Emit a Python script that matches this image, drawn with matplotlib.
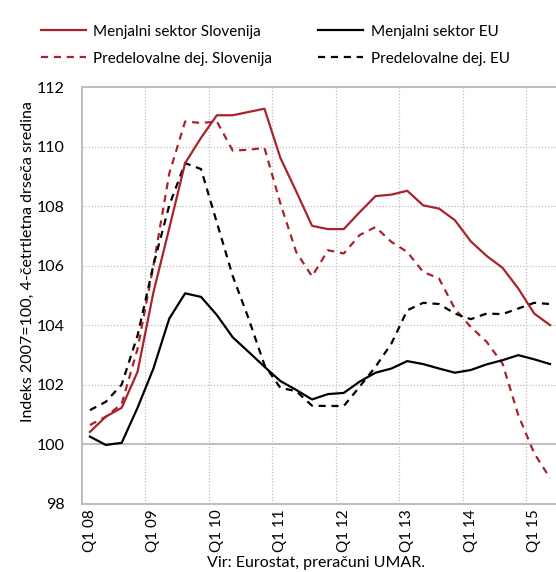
import matplotlib
matplotlib.use("Agg")
import matplotlib.pyplot as plt

plt.rcParams['font.family'] = ['Lato', 'DejaVu Sans']

quarters = [f"Q{q} {y:02d}" for y in range(8, 16) for q in range(1, 5)][:30]
year_labels = ["Q1 08", "Q1 09", "Q1 10", "Q1 11", "Q1 12", "Q1 13", "Q1 14", "Q1 15"]

menjalni_si = [100.41, 100.92, 101.22, 102.43, 105.1, 107.26, 109.45, 110.3, 111.06, 111.06,
               111.17, 111.28, 109.63, 108.5, 107.34, 107.23, 107.23, 107.8, 108.34, 108.39,
               108.52, 108.03, 107.92, 107.53, 106.82, 106.33, 105.93, 105.23, 104.39, 104.0]
menjalni_eu = [100.25, 99.97, 100.04, 101.22, 102.54, 104.22, 105.07, 104.95, 104.34, 103.59,
               103.1, 102.6, 102.12, 101.82, 101.5, 101.68, 101.72, 102.1, 102.4, 102.54,
               102.79, 102.69, 102.54, 102.4, 102.49, 102.68, 102.82, 102.99, 102.85, 102.69]
predel_si = [100.64, 100.92, 101.35, 103.2, 106.0, 109.1, 110.85, 110.8, 110.85, 109.87,
             109.9, 109.96, 108.1, 106.46, 105.64, 106.52, 106.41, 107.03, 107.3, 106.8,
             106.46, 105.79, 105.57, 104.55, 103.94, 103.44, 102.71, 100.97, 99.69, 98.85]
predel_eu = [101.14, 101.42, 102.0, 103.65, 106.02, 108.03, 109.45, 109.25, 107.45, 105.65,
             104.22, 102.66, 101.89, 101.78, 101.29, 101.28, 101.28, 101.93, 102.6, 103.38,
             104.5, 104.75, 104.71, 104.39, 104.2, 104.39, 104.37, 104.56, 104.75, 104.71]
series_names = ["Menjalni sektor Slovenija", "Predelovalne dej. Slovenija",
                "Menjalni sektor EU", "Predelovalne dej. EU"]
yticks = [98, 100, 102, 104, 106, 108, 110, 112]

RED = "#a8232b"
GRID = "#bfbfbf"
FS = 11

fig = plt.figure(figsize=(5.56, 5.72), dpi=100)
ax = fig.add_axes([82/556, 1 - 503.5/572, 476/556, (503.5 - 87.3)/572])

x = list(range(len(quarters)))
dash = (0, (3.2, 2.6))
l1, = ax.plot(x, menjalni_si, color=RED, lw=1.6, label=series_names[0], zorder=4)
l3, = ax.plot(x, menjalni_eu, color="black", lw=1.6, label=series_names[2], zorder=4)
l2, = ax.plot(x, predel_si, color=RED, lw=1.6, ls=dash, label=series_names[1], zorder=3)
l4, = ax.plot(x, predel_eu, color="black", lw=1.6, ls=dash, label=series_names[3], zorder=3)

ax.set_xlim(-0.5, len(quarters) - 0.5)
ax.set_ylim(98, 112)
ax.set_yticks(yticks)
ax.set_yticklabels([str(v) for v in yticks], fontsize=11.5)
ax.set_xticks([i for i in x if quarters[i].startswith("Q1")])
ax.set_xticklabels(year_labels, rotation=90, fontsize=11)
ax.tick_params(axis='y', length=0, pad=12.5)
ax.tick_params(axis='x', length=0, pad=4.5)

for v in yticks[1:-1]:
    if v == 100:
        ax.axhline(v, color=GRID, lw=1.5, zorder=1)
    else:
        ax.axhline(v, color=GRID, lw=0.9, ls=(0, (1, 1.5)), zorder=1)
for i in x:
    if i > 0 and quarters[i].startswith("Q1"):
        ax.axvline(i - 0.5, color=GRID, lw=0.9, ls=(0, (1, 1.5)), zorder=1)

for s in ['left', 'top', 'bottom']:
    ax.spines[s].set_color(GRID)
    ax.spines[s].set_linewidth(1.5)
ax.spines['right'].set_visible(False)

ax.set_ylabel("Indeks 2007=100, 4-četrtletna drseča sredina", fontsize=11.5)
ax.yaxis.set_label_coords(-(82 - 28) / 476, (503.5 - 262) / (503.5 - 87.3))
ax.yaxis.label.set_va('center')

fig.legend([l1, l2, l3, l4], series_names, ncol=2, loc='upper left',
           bbox_to_anchor=(27/556, 1 - 11/572), frameon=False, fontsize=FS,
           handlelength=2.95, handletextpad=0.5, columnspacing=3.0, labelspacing=0.85)

fig.text(316/556, 1 - 563.5/572, "Vir: Eurostat, preračuni UMAR.", ha='center', va='center', fontsize=11.5)

fig.savefig("out.png", dpi=100)
